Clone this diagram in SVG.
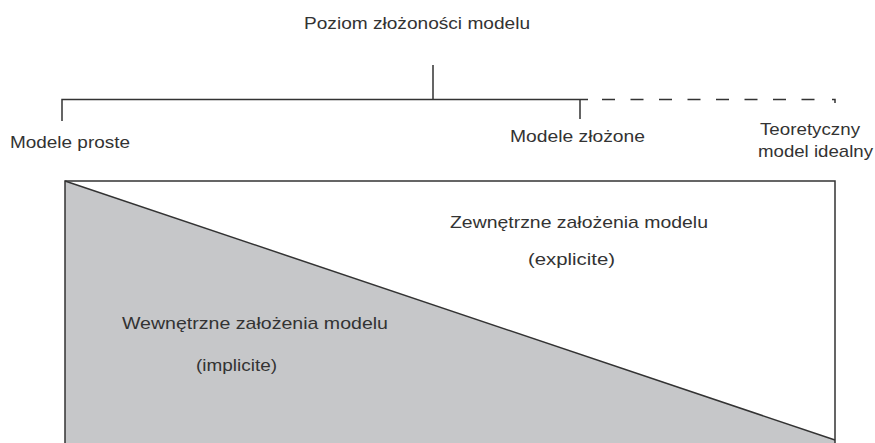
<svg xmlns="http://www.w3.org/2000/svg" width="875" height="443" viewBox="0 0 875 443">
<style>
text{font-family:"Liberation Sans",Arial,sans-serif;font-size:17px;fill:#333}
.ln{stroke:#333;stroke-width:1.5;fill:none}
</style>
<rect width="875" height="443" fill="#fff"/>
<g id="title"><text x="304" y="29" textLength="226" lengthAdjust="spacingAndGlyphs">Poziom złożoności modelu</text></g>
<g id="connectors">
<path class="ln" d="M433 65V99.5M62 121V99.5H588M580 99.5V119"/>
<path class="ln" d="M602 99.5H816" stroke-dasharray="13 15.5"/>
<path class="ln" d="M832 99.5H835V103"/>
</g>
<g id="proste"><text x="10" y="148" textLength="120" lengthAdjust="spacingAndGlyphs">Modele proste</text></g>
<g id="zlozone"><text x="510" y="142" textLength="135" lengthAdjust="spacingAndGlyphs">Modele złożone</text></g>
<g id="idealny"><text x="760" y="135" textLength="100" lengthAdjust="spacingAndGlyphs">Teoretyczny</text><text x="758" y="157" textLength="115" lengthAdjust="spacingAndGlyphs">model idealny</text></g>
<g id="chart">
<path d="M65 181L835 440V443H65Z" fill="#c6c7c9"/>
<path class="ln" d="M65 443V181H835V443"/>
<path class="ln" d="M65 181L835 440"/>
<text x="450" y="228" textLength="258" lengthAdjust="spacingAndGlyphs">Zewnętrzne założenia modelu</text>
<text x="528" y="265" textLength="87" lengthAdjust="spacingAndGlyphs">(explicite)</text>
<text x="122" y="329" textLength="266" lengthAdjust="spacingAndGlyphs">Wewnętrzne założenia modelu</text>
<text x="196" y="371" textLength="81" lengthAdjust="spacingAndGlyphs">(implicite)</text>
</g>
</svg>
